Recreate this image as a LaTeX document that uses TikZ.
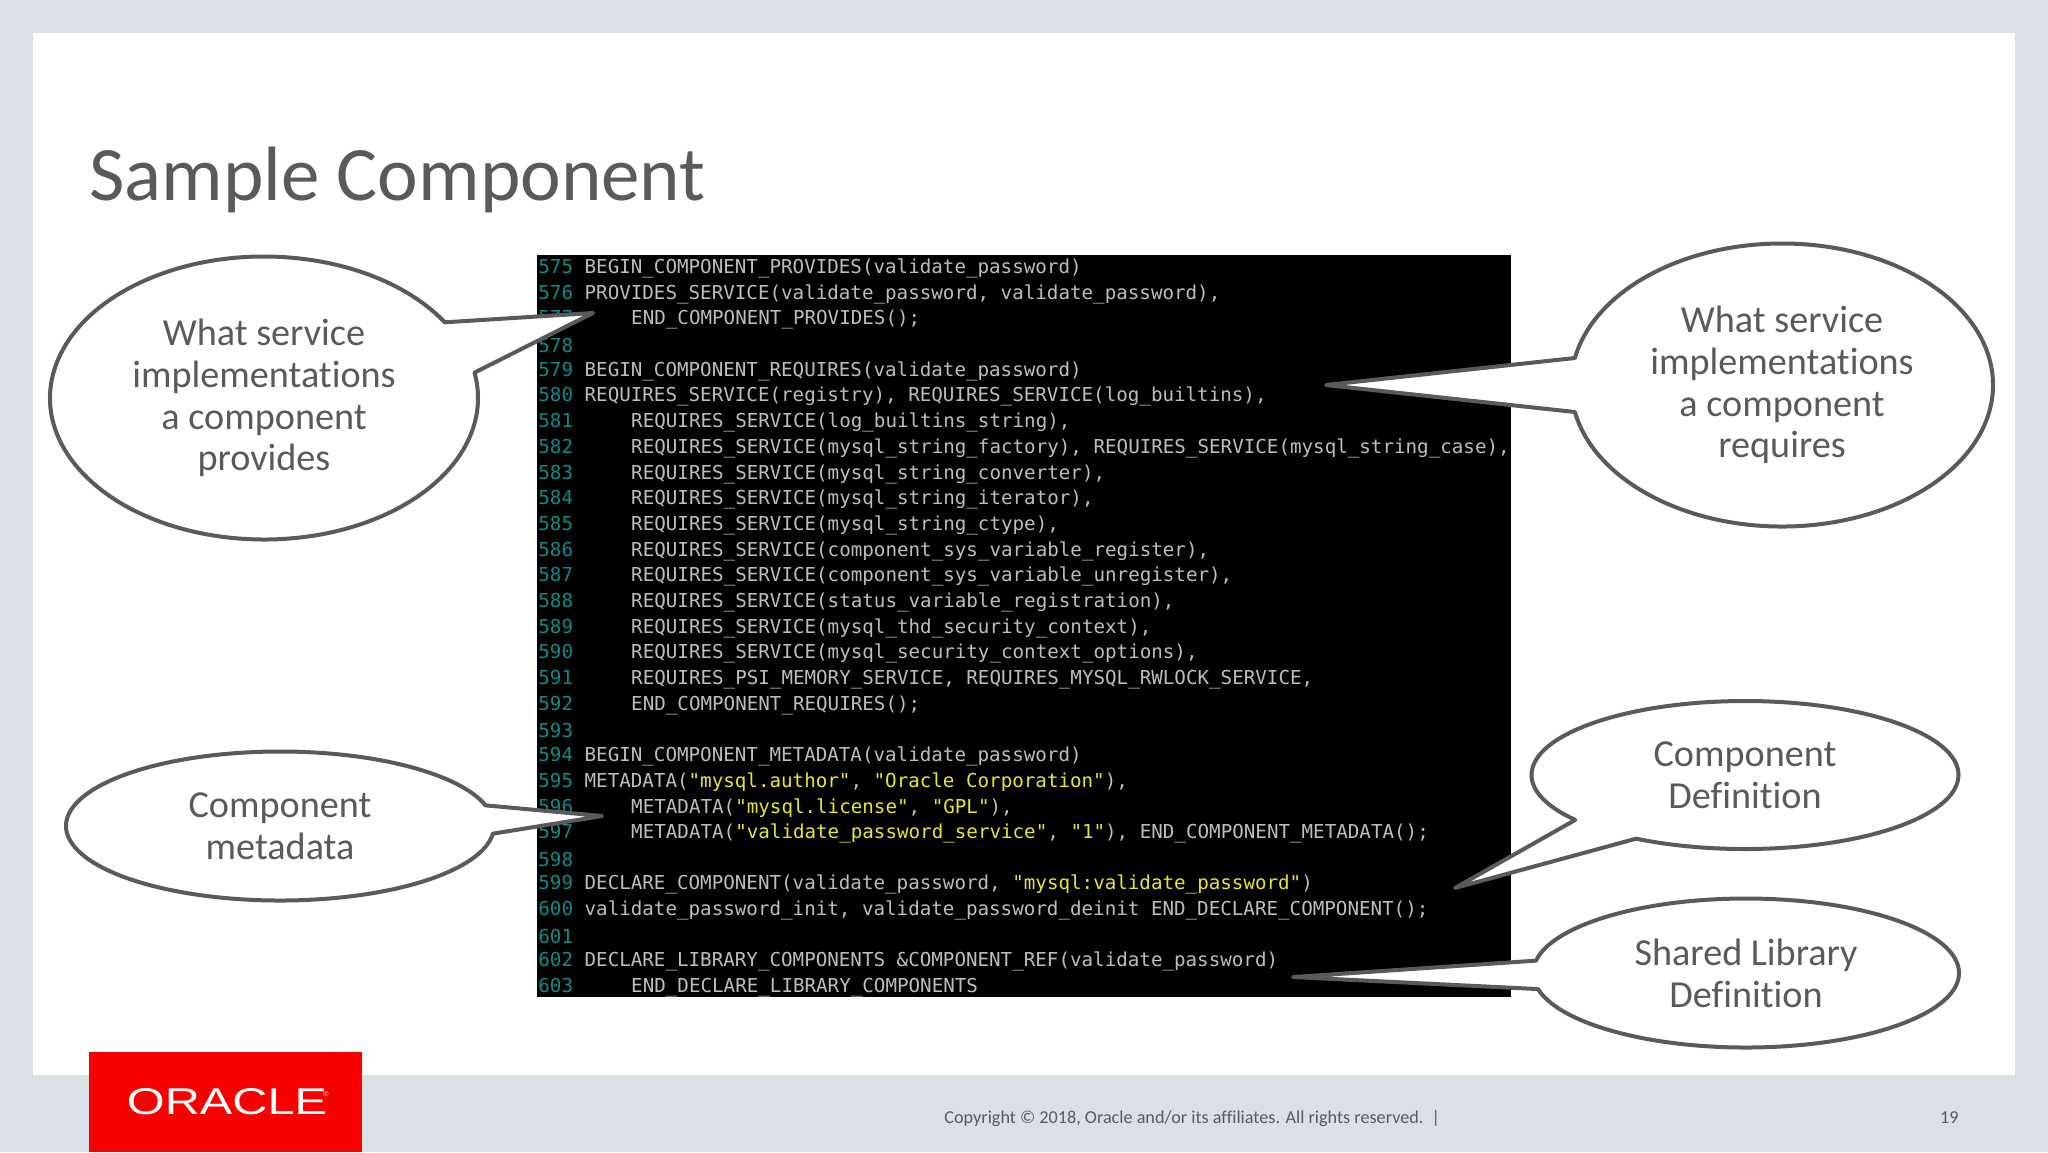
\documentclass[tikz,border=0pt]{standalone}
\usepackage{fontspec}
\usepackage{graphicx}
\usetikzlibrary{shapes.callouts}
\setmainfont[Ligatures=NoCommon]{Carlito}
\newfontfamily\codefont{DejaVu Sans Mono}
\newfontfamily\logofont{Liberation Sans}
\definecolor{slidebg}{HTML}{DAE0E6}
\definecolor{inkgray}{HTML}{5A5A5C}
\definecolor{codegray}{HTML}{BEBEB8}
\definecolor{linenum}{HTML}{0E8A84}
\definecolor{strcol}{HTML}{E6E632}
\definecolor{oraclered}{HTML}{F80000}
\newcommand{\ind}{\hspace*{23.3pt}}
\newcommand{\strlit}[1]{\textcolor{strcol}{#1}}
\tikzset{
  bubble/.style={shape=ellipse callout, draw=inkgray, fill=white, line width=2pt,
    line join=round, inner sep=0pt, align=center, text=inkgray,
    font=\fontsize{19.1}{20.9}\selectfont, callout pointer arc=22},
  codeline/.style={anchor=west, inner sep=0pt, text=codegray,
    font=\fontsize{9.6}{11}\selectfont\codefont},
}
\begin{document}
\begin{tikzpicture}[x=0.5pt,y=-0.5pt]
    \useasboundingbox (0,0) rectangle (2048,1152);
    \fill[slidebg] (0,0) rectangle (2048,1152);
    \fill[white] (33,33) rectangle (2015,1075);
    \node[anchor=west, inner sep=0pt, text=inkgray, font=\fontsize{38.5}{44}\selectfont] (title) at (89,180) {Sample Component};
    % code listing
    \fill[black] (537,255) rectangle (1511,997);
    \foreach \num/\code in {
      575/{BEGIN\_COMPONENT\_PROVIDES(validate\_password)},
      576/{PROVIDES\_SERVICE(validate\_password, validate\_password),},
      577/{\ind END\_COMPONENT\_PROVIDES();},
      578/{},
      579/{BEGIN\_COMPONENT\_REQUIRES(validate\_password)},
      580/{REQUIRES\_SERVICE(registry), REQUIRES\_SERVICE(log\_builtins),},
      581/{\ind REQUIRES\_SERVICE(log\_builtins\_string),},
      582/{\ind REQUIRES\_SERVICE(mysql\_string\_factory), REQUIRES\_SERVICE(mysql\_string\_case),},
      583/{\ind REQUIRES\_SERVICE(mysql\_string\_converter),},
      584/{\ind REQUIRES\_SERVICE(mysql\_string\_iterator),},
      585/{\ind REQUIRES\_SERVICE(mysql\_string\_ctype),},
      586/{\ind REQUIRES\_SERVICE(component\_sys\_variable\_register),},
      587/{\ind REQUIRES\_SERVICE(component\_sys\_variable\_unregister),},
      588/{\ind REQUIRES\_SERVICE(status\_variable\_registration),},
      589/{\ind REQUIRES\_SERVICE(mysql\_thd\_security\_context),},
      590/{\ind REQUIRES\_SERVICE(mysql\_security\_context\_options),},
      591/{\ind REQUIRES\_PSI\_MEMORY\_SERVICE, REQUIRES\_MYSQL\_RWLOCK\_SERVICE,},
      592/{\ind END\_COMPONENT\_REQUIRES();},
      593/{},
      594/{BEGIN\_COMPONENT\_METADATA(validate\_password)},
      595/{METADATA(\strlit{"mysql.author"}, \strlit{"Oracle Corporation"}),},
      596/{\ind METADATA(\strlit{"mysql.license"}, \strlit{"GPL"}),},
      597/{\ind METADATA(\strlit{"validate\_password\_service"}, \strlit{"1"}), END\_COMPONENT\_METADATA();},
      598/{},
      599/{DECLARE\_COMPONENT(validate\_password, \strlit{"mysql:validate\_password"})},
      600/{validate\_password\_init, validate\_password\_deinit END\_DECLARE\_COMPONENT();},
      601/{},
      602/{DECLARE\_LIBRARY\_COMPONENTS \&COMPONENT\_REF(validate\_password)},
      603/{\ind END\_DECLARE\_LIBRARY\_COMPONENTS}%
    }{
      \node[codeline] (line\num) at (538,{268.5+(\num-575)*25.68}) {\textcolor{linenum}{\num} \code};
    }
    % callouts
    \node[bubble, minimum width=214pt, minimum height=141.5pt, callout absolute pointer={(593,313)}] (provides) at (264,398)
      {What service\\implementations\\a component\\provides};
    \node[bubble, minimum width=211pt, minimum height=141.5pt, callout absolute pointer={(1326,385)}] (requires) at (1782,385)
      {What service\\implementations\\a component\\requires};
    \node[bubble, minimum width=214pt, minimum height=74.5pt, callout absolute pointer={(602,816)}] (metadata) at (280,826)
      {Component\\metadata};
    \node[bubble, minimum width=213.5pt, minimum height=74pt, callout absolute pointer={(1455,888)}] (compdef) at (1745,775)
      {Component\\Definition};
    \node[bubble, minimum width=213pt, minimum height=74.5pt, callout absolute pointer={(1293,977)}] (libdef) at (1746,973)
      {Shared Library\\Definition};
    % footer
    \fill[oraclered] (89,1052) rectangle (362,1152);
    \node[inner sep=0pt, text=white] (logo) at (227,1102) {\logofont\resizebox{100pt}{13pt}{ORACLE}};
    \node[inner sep=0pt, text=white, font=\logofont\fontsize{3.5}{4}\selectfont] (logomark) at (326,1094) {®};
    \node[anchor=west, inner sep=0pt, text=inkgray, font=\fontsize{9.1}{11}\selectfont] (copyright) at (944,1118)
      {Copyright © 2018, Oracle and/or its affiliates. All rights reserved.\ \ |};
    \node[anchor=east, inner sep=0pt, text=inkgray, font=\fontsize{9.1}{11}\selectfont] (pagenum) at (1959,1118) {19};
\end{tikzpicture}
\end{document}
